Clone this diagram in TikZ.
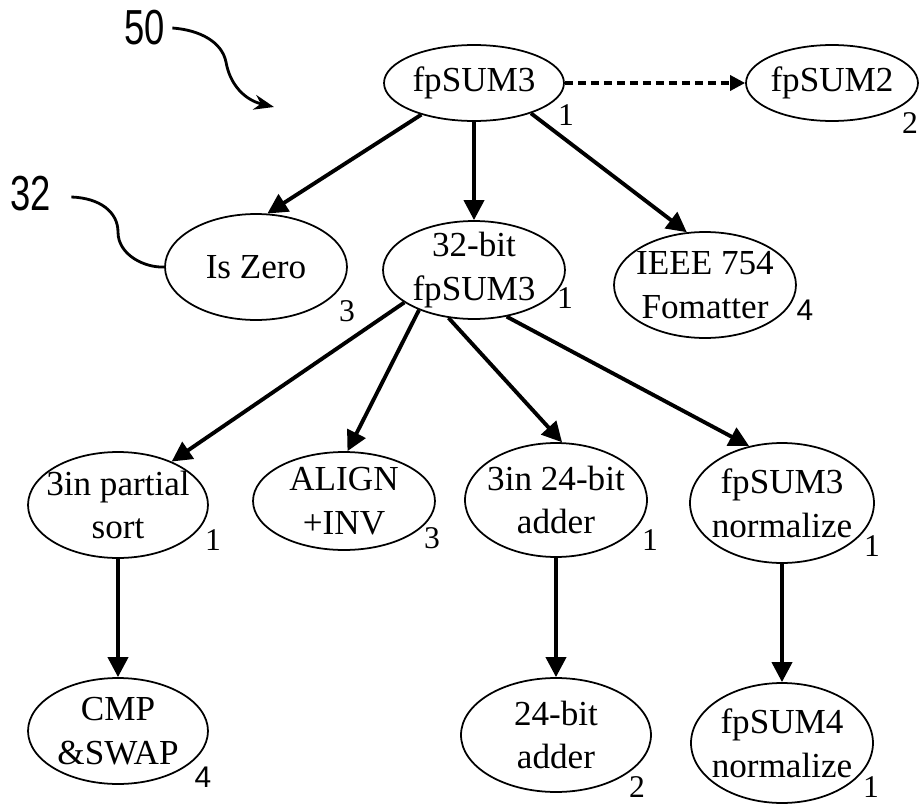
\documentclass[tikz,border=0pt]{standalone}
\usepackage{fontspec}
\setmainfont{Liberation Serif}
\newfontfamily\numsans{Liberation Sans}
\usetikzlibrary{shapes.geometric,arrows.meta}

\begin{document}
\begin{tikzpicture}[x=0.02cm,y=-0.02cm,
		blk/.style={ellipse,draw,line width=1pt,inner sep=-0.3cm,align=center,font=\fontsize{20}{25}\selectfont},
		idx/.style={inner sep=0pt,font=\fontsize{18}{20}\selectfont},
		refnum/.style={inner sep=1pt,font=\numsans\fontsize{28}{30}\selectfont},
		link/.style={line width=2.2pt,-{Triangle[length=0.4cm,width=0.4cm]}},
		dlink/.style={line width=1.9pt,dash pattern=on 0.16cm off 0.1cm,-{Triangle[length=0.3cm,width=0.3cm]}},
		lead/.style={line width=1.6pt}]
	\useasboundingbox (0,0) rectangle (921,805);
	
	\node[blk,minimum width=3.6cm,minimum height=1.52cm] (top) at (474,83) {fpSUM3};
	\node[blk,minimum width=3.44cm,minimum height=1.52cm] (sum2) at (832,83) {fpSUM2};
	
	\node[blk,minimum width=3.64cm,minimum height=2.12cm] (iszero) at (256,267) {Is Zero};
	\node[blk,minimum width=3.64cm,minimum height=1.96cm] (bit32) at (474,270) {32-bit\\fpSUM3};
	\node[blk,minimum width=3.64cm,minimum height=2.12cm] (ieee) at (705,285) {IEEE 754\\Fomatter};
	
	\node[blk,minimum width=3.6cm,minimum height=2.12cm] (sort) at (118,505) {3in partial\\sort};
	\node[blk,minimum width=3.64cm,minimum height=1.96cm] (align) at (344,501) {ALIGN\\+INV};
	\node[blk,minimum width=3.64cm,minimum height=2.28cm] (add3) at (556,500) {3in 24-bit\\adder};
	\node[blk,minimum width=3.68cm,minimum height=2.4cm] (norm3) at (782,503) {fpSUM3\\normalize};
	
	\node[blk,minimum width=3.6cm,minimum height=2.12cm] (cmp) at (118,731) {CMP\\\&SWAP};
	\node[blk,minimum width=3.8cm,minimum height=2.28cm] (add24) at (556,735) {24-bit\\adder};
	\node[blk,minimum width=3.64cm,minimum height=2.4cm] (norm4) at (782,743) {fpSUM4\\normalize};
	
	\node[idx] (itop) at (566,115) {1};
	\node[idx] (isum2) at (910,123) {2};
	\node[idx] (iiszero) at (347,311) {3};
	\node[idx] (ibit32) at (565,298) {1};
	\node[idx,font=\numsans\fontsize{17}{20}\selectfont] (iieee) at (805,310) {4};
	\node[idx] (isort) at (213,540) {1};
	\node[idx] (ialign) at (432,538) {3};
	\node[idx] (iadd3) at (650,540) {1};
	\node[idx] (inorm3) at (872,546) {1};
	\node[idx,font=\numsans\fontsize{17}{20}\selectfont] (icmp) at (203,777) {4};
	\node[idx] (iadd24) at (637,787) {2};
	\node[idx] (inorm4) at (871,787) {1};
	
	\draw[dlink] (top) -- (sum2);
	\draw[link] (top.211) -- (iszero.78);
	\draw[link] (top) -- (bit32);
	\draw[link] (top.332) -- (ieee.109);
	
	\draw[link] (bit32.205) -- (sort.39);
	\draw[link] (bit32.216) -- (align.86);
	\draw[link] (bit32.242) -- (add3.84);
	\draw[link] (bit32.305) -- (norm3.120);
	
	\draw[link] (sort) -- (cmp);
	\draw[link] (add3) -- (add24);
	\draw[link] (norm3) -- (norm4);
	
	\node[refnum] (r50) at (145,28) {\scalebox{0.74}[1]{50}};
	\node[refnum] (r32) at (31,194) {\scalebox{0.74}[1]{32}};
	\coordinate (tip50) at (274,107);
	
	\draw[lead,-{Stealth[length=0.4cm,width=0.3cm]}] ([xshift=0.1cm]r50.east) .. controls (200,30) and (222,42) .. (226,62) .. controls (230,85) and (245,100) .. (tip50);
	\draw[lead] ([xshift=0.36cm,yshift=-0.06cm]r32.east) .. controls (100,198) and (118,212) .. (118,232) .. controls (118,255) and (145,268) .. (iszero.west);
\end{tikzpicture}
\end{document}
